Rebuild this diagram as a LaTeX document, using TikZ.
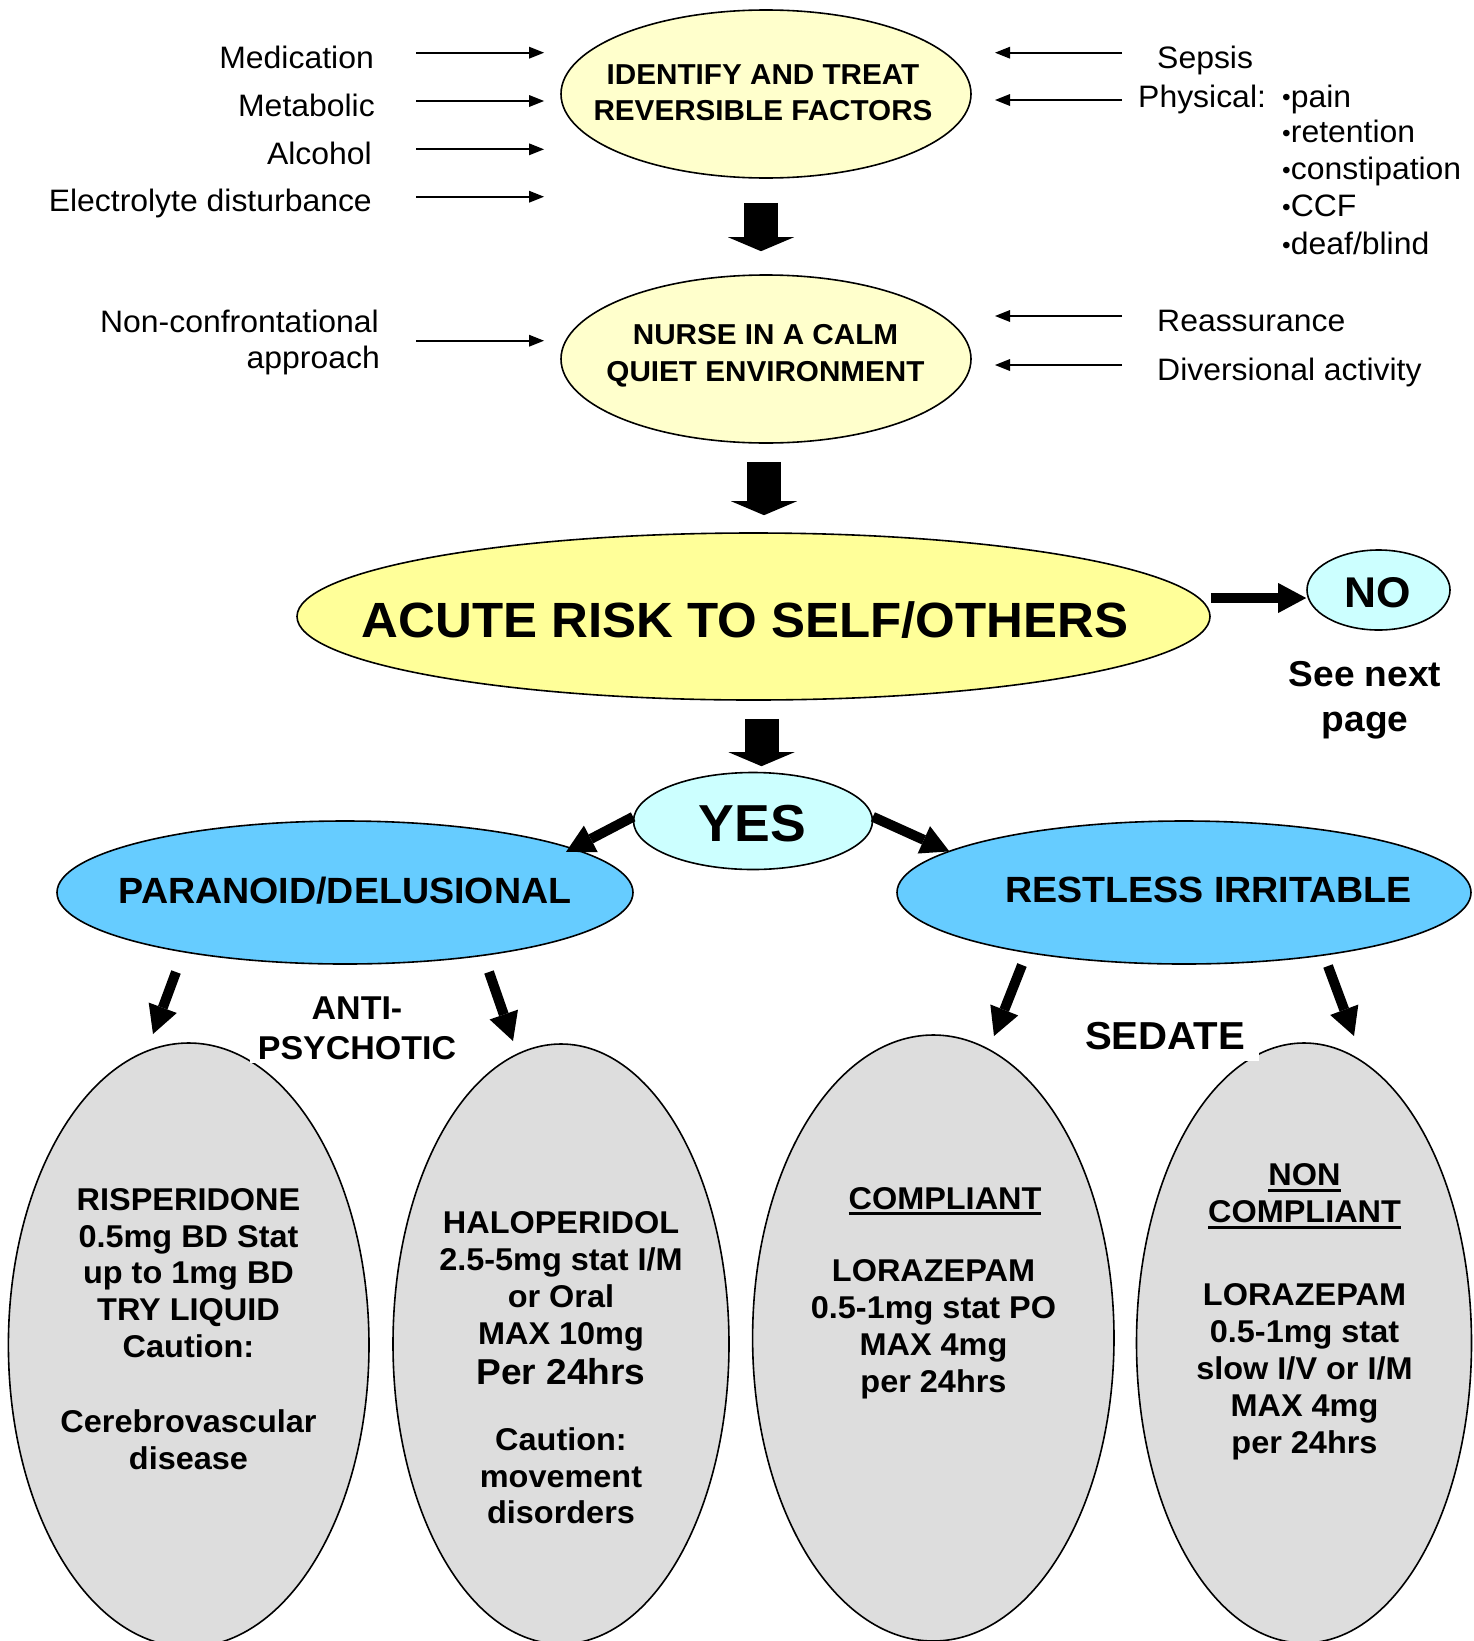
\documentclass[tikz,border=0pt]{standalone}
\usepackage{fontspec}
\setmainfont{Liberation Sans}[FakeStretch=1.03]
\usetikzlibrary{arrows.meta,shapes.geometric}
\definecolor{paleyellow}{HTML}{FFFFCC}
\definecolor{acuteyellow}{HTML}{FFFF99}
\definecolor{skyblue}{HTML}{66CCFF}
\definecolor{palecyan}{HTML}{CCFFFF}
\definecolor{lightgrey}{HTML}{DDDDDD}
\newcommand\myul[1]{\setbox0\hbox{#1}\rlap{\rule[-6pt]{\wd0}{2.8pt}}\box0}
\newcommand\smbul{\raisebox{1.5pt}{\fontsize{24}{24}\selectfont •}}
\begin{document}
\begin{tikzpicture}[x=1pt,y=-1pt,
  oval/.style={ellipse, draw=black, line width=1.6pt, inner sep=0pt},
  lab/.style={inner sep=0pt, font=\fontsize{31}{37}\selectfont},
  thinarrow/.style={line width=2pt, -{Triangle[length=15pt,width=12pt,line width=0pt]}},
  blockarrow/.style={line width=34pt, -{Triangle[length=14pt,width=66pt,line width=0pt]}},
  medarrow/.style={line width=10pt, -{Triangle[length=28pt,width=30pt,line width=0pt]}},
  toptxt/.style={inner sep=0pt, align=center, anchor=north, font=\bfseries\fontsize{28.8}{36.7}\selectfont},
  btxt/.style={inner sep=0pt, align=center, anchor=north, font=\bfseries\fontsize{31.5}{36.8}\selectfont},
  bigtxt/.style={inner sep=0pt, align=center, anchor=north},
]
\useasboundingbox (0,0) rectangle (1473,1641);
\clip (0,0) rectangle (1473,1641);

% top ellipses
\node[oval, fill=paleyellow, minimum width=410pt, minimum height=168pt] (ident) at (766,94) {};
\node[toptxt] (identtxt) at (763,64.2) {IDENTIFY AND TREAT\\REVERSIBLE FACTORS};
\node[oval, fill=paleyellow, minimum width=410pt, minimum height=168pt] (nurse) at (766,359) {};
\node[toptxt] (nursetxt) at (765.5,324) {NURSE IN A CALM\\QUIET ENVIRONMENT};

% acute
\node[oval, fill=acuteyellow, minimum width=913pt, minimum height=167pt] (acute) at (753.5,616.5) {};
\node[bigtxt, font=\bfseries\fontsize{49.5}{60}\selectfont] (acutetxt) at (745,601.7) {ACUTE RISK TO SELF/OTHERS};

% NO
\node[oval, fill=palecyan, minimum width=143pt, minimum height=80pt] (no) at (1378.5,590) {};
\node[bigtxt, font=\bfseries\fontsize{43}{50}\selectfont] (notxt) at (1378,577) {NO};
\node[bigtxt, font=\bfseries\fontsize{36}{45}\selectfont] (seenext) at (1365,661) {See next\\page};

% YES
\node[oval, fill=palecyan, minimum width=239pt, minimum height=97pt] (yes) at (753,821) {};
\node[bigtxt, font=\bfseries\fontsize{52}{60}\selectfont] (yestxt) at (752.5,805) {YES};

% blue ellipses
\node[oval, fill=skyblue, minimum width=576pt, minimum height=143pt] (para) at (345,892.5) {};
\node[bigtxt, font=\bfseries\fontsize{36.5}{42}\selectfont] (paratxt) at (345,876.7) {PARANOID/DELUSIONAL};
\node[oval, fill=skyblue, minimum width=574pt, minimum height=143pt] (restless) at (1184,892.5) {};
\node[bigtxt, font=\bfseries\fontsize{36.5}{42}\selectfont] (restlesstxt) at (1208.5,876.7) {RESTLESS IRRITABLE};

% bottom ellipses
\node[oval, fill=lightgrey, minimum width=360.6pt, minimum height=604pt] (risp) at (188.7,1345) {};
\node[oval, fill=lightgrey, minimum width=336pt, minimum height=600pt] (halo) at (561,1344) {};
\node[oval, fill=lightgrey, minimum width=361.4pt, minimum height=606pt] (comp) at (933.3,1338) {};
\node[oval, fill=lightgrey, minimum width=335pt, minimum height=600pt] (noncomp) at (1304,1343) {};

\node[btxt] (risptxt) at (188.5,1188) {RISPERIDONE\\0.5mg BD Stat\\up to 1mg BD\\TRY LIQUID\\Caution:\\[38pt]Cerebrovascular\\disease};
\node[btxt] (halotxt) at (561,1211.5) {HALOPERIDOL\\2.5-5mg stat I/M\\or Oral\\MAX 10mg\\[3.6pt]{\fontsize{36}{40}\selectfont Per 24hrs}\\[29pt]Caution:\\movement\\disorders};
\node[btxt] (comphead) at (945,1187) {\myul{COMPLIANT}};
\node[btxt] (comptxt) at (933.5,1259.5) {LORAZEPAM\\0.5-1mg stat PO\\MAX 4mg\\per 24hrs};
\node[btxt] (noncomptxt) at (1304.5,1163.5) {\myul{NON}\\\myul{COMPLIANT}\\[46.5pt]LORAZEPAM\\0.5-1mg stat\\slow I/V or I/M\\MAX 4mg\\per 24hrs};

% labels with white background
\node[inner xsep=8pt, inner ysep=3pt, fill=white, align=center, anchor=north, font=\bfseries\fontsize{33}{40}\selectfont] (anti) at (357,993.5) {ANTI-\\PSYCHOTIC};
\node[inner xsep=14pt, inner ysep=11pt, fill=white, anchor=north, font=\bfseries\fontsize{39}{45}\selectfont] (sedate) at (1165,1010.7) {SEDATE};

% side labels left
\node[lab, anchor=base east] (med) at (374,68.3) {Medication};
\node[lab, anchor=base east] (meta) at (375,116.7) {Metabolic};
\node[lab, anchor=base east] (alc) at (372,164.3) {Alcohol};
\node[lab, anchor=base east] (elec) at (372,211.7) {Electrolyte disturbance};
\node[lab, anchor=base east] (nonc1) at (379,332.3) {Non-confrontational};
\node[lab, anchor=base east] (nonc2) at (380,368.3) {approach};

% side labels right
\node[lab, anchor=base west] (sepsis) at (1157,68.3) {Sepsis};
\node[lab, anchor=base west] (phys) at (1138,107.3) {Physical:};
\node[lab, anchor=base west] (bpain) at (1282,107.3) {\smbul pain};
\node[lab, anchor=base west] (bret) at (1282,142.7) {\smbul retention};
\node[lab, anchor=base west] (bcon) at (1282,179.5) {\smbul constipation};
\node[lab, anchor=base west] (bccf) at (1282,216.7) {\smbul CCF};
\node[lab, anchor=base west] (bdeaf) at (1282,254.5) {\smbul deaf/blind};
\node[lab, anchor=base west] (reass) at (1157,331.7) {Reassurance};
\node[lab, anchor=base west] (divers) at (1157,380) {Diversional activity};

% thin arrows
\coordinate (la1s) at (416,52.7);  \coordinate (la1e) at (544,52.7);
\coordinate (la2s) at (416,101);   \coordinate (la2e) at (544,101);
\coordinate (la3s) at (416,149.3); \coordinate (la3e) at (544,149.3);
\coordinate (la4s) at (416,196.7); \coordinate (la4e) at (544,196.7);
\coordinate (la5s) at (416,340.7); \coordinate (la5e) at (544,340.7);
\coordinate (ra1s) at (1122,52.7); \coordinate (ra1e) at (995,52.7);
\coordinate (ra2s) at (1122,100);  \coordinate (ra2e) at (995,100);
\coordinate (ra3s) at (1122,316);  \coordinate (ra3e) at (995,316);
\coordinate (ra4s) at (1122,365);  \coordinate (ra4e) at (995,365);
\foreach \a in {la1,la2,la3,la4,la5,ra1,ra2,ra3,ra4}
  \draw[thinarrow] (\a s) -- (\a e);

% block arrows
\draw[blockarrow, shorten <=24pt, shorten >=23pt] ([xshift=-5pt]ident.south) -- ([xshift=-5pt]ident.south |- nurse.north);
\draw[blockarrow, shorten <=18pt, shorten >=17pt] ([xshift=-2pt]nurse.south) -- ([xshift=-2pt]nurse.south |- acute.north);
\draw[blockarrow, shorten <=18pt, shorten >=5.5pt] ([xshift=8pt]acute.south) -- ([xshift=8pt]acute.south |- yes.north);

% NO arrow
\draw[medarrow] ([yshift=18.5pt]acute.east) -- ([yshift=18.5pt]acute.east -| no.west);

% YES arrows
\draw[medarrow, shorten >=-8pt] (yes.178) -- (para.11);
\draw[medarrow, shorten >=-1pt] (yes.2) -- (restless.170);

% lower arrows
\coordinate (p1s) at (176,972);  \coordinate (p1e) at (153,1034);
\coordinate (p2s) at (489,972);  \coordinate (p2e) at (513,1041);
\coordinate (r1s) at (1022,965); \coordinate (r1e) at (994,1036);
\coordinate (r2s) at (1328,966); \coordinate (r2e) at (1354,1036);
\foreach \a in {p1,p2,r1,r2}
  \draw[medarrow] (\a s) -- (\a e);
\end{tikzpicture}
\end{document}
